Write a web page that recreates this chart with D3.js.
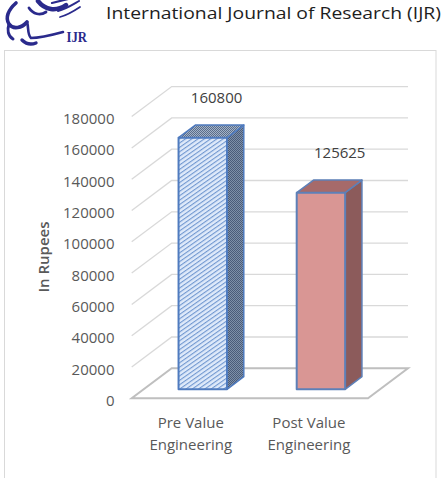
<!DOCTYPE html>
<html><head><meta charset="utf-8">
<script src="https://cdn.jsdelivr.net/npm/d3@7"></script>
<style>html,body{margin:0;padding:0;background:#fff;}svg{display:block;}</style>
</head><body>
<script>
const categories = [["Pre Value","Engineering"],["Post Value","Engineering"]];
const values = [160800, 125625];
const valueLabels = ["160800","125625"];
const ticks = [0,20000,40000,60000,80000,100000,120000,140000,160000,180000];

const W=444,H=478;
const svg=d3.select("body").append("svg").attr("width",W).attr("height",H);
const defs=svg.append("defs");

// patterns
const p1=defs.append("pattern").attr("id","hatch").attr("patternUnits","userSpaceOnUse")
  .attr("width",4).attr("height",3.6).attr("patternTransform","rotate(-35)");
p1.append("rect").attr("width",4).attr("height",3.6).attr("fill","#dfeafa");
p1.append("rect").attr("y",0).attr("width",4).attr("height",1.1).attr("fill","#7097d0");
function dots(id,bg,fg){
  const p=defs.append("pattern").attr("id",id).attr("patternUnits","userSpaceOnUse").attr("width",2).attr("height",2);
  p.append("rect").attr("width",2).attr("height",2).attr("fill",bg);
  p.append("rect").attr("width",1).attr("height",1).attr("fill",fg);
  p.append("rect").attr("x",1).attr("y",1).attr("width",1).attr("height",1).attr("fill",fg);
}
dots("dotTop","#a3b3c8","#5a6d8a");
dots("dotSide","#7e90a8","#4a5c7a");

// header logo (stylised)
const logo=svg.append("g").attr("fill","none").attr("stroke","#2a2a8c").attr("stroke-linecap","round");
logo.append("path").attr("d","M16,3 C8,10 5,18 9,24 C13,30 22,28 27,22").attr("stroke-width",3.6);
logo.append("path").attr("d","M9,24 C7,30 8,36 13,39").attr("stroke-width",3);
logo.append("path").attr("d","M27,22 C29,28 27,34 31,38 C41,38 52,35 63,32").attr("stroke-width",2.6);
logo.append("path").attr("d","M22,40 C26,44 31,45 36,43").attr("stroke-width",3.4);
logo.append("path").attr("d","M38,1 C45,10 56,12 66,5").attr("stroke-width",4.5);
logo.append("path").attr("d","M52,3 C60,1 68,-1 76,-3").attr("stroke-width",2.2);
logo.append("path").attr("d","M58,11 C66,9 72,5 79,1").attr("stroke-width",2);
logo.append("path").attr("d","M60,17 C68,15 74,11 80,7").attr("stroke-width",1.8);
logo.append("path").attr("d","M29,8 C33,14 40,16 46,12").attr("stroke-width",2.8);
svg.append("text").attr("x",66.5).attr("y",41.5).attr("font-family","Liberation Serif").attr("font-weight","bold")
  .attr("font-size",15).attr("fill","#2a2a8c").attr("textLength",20.5).attr("lengthAdjust","spacingAndGlyphs").text("IJR");
svg.append("text").attr("x",106).attr("y",18.5).attr("font-family","Open Sans").attr("font-size",17)
  .attr("fill","#1e1e1e").attr("textLength",335).attr("lengthAdjust","spacingAndGlyphs").text("International Journal of Research (IJR)");

// chart frame
svg.append("rect").attr("x",4.5).attr("y",50.5).attr("width",431.5).attr("height",440).attr("fill","#fff").attr("stroke","#d9d9d9").attr("stroke-width",1);

// 3D geometry
const x0=131.7, x1=368, yBase=398.3, DX=40, DY=30;
const x=d3.scaleBand().domain(d3.range(values.length)).range([x0,x1]).padding(0);
const y=d3.scaleLinear().domain([0,180000]).range([0,281.7]);
const P=(bx,v,d)=>[bx+DX*d, yBase-DY*d-y(v)];
const gridColor="#d9d9d9";

const grid=svg.append("g");
ticks.forEach(t=>{
  const a=P(x0,t,0), b=P(x0,t,1), c=P(x1,t,1);
  if(t>0){
    grid.append("path").attr("d",`M${a}L${b}L${c}`).attr("fill","none").attr("stroke",gridColor).attr("stroke-width",1.3);
  }
});
{
  const a=P(x0,0,0),b=P(x1,0,0),c=P(x1,0,1),d=P(x0,0,1);
  grid.append("path").attr("d",`M${a}L${b}L${c}L${d}Z`).attr("fill","#fff").attr("stroke","#bfbfbf").attr("stroke-width",2);
}

// tick labels
svg.append("g").selectAll("text").data(ticks).join("text")
  .attr("x",114.5).attr("y",t=>P(x0,t,0)[1]+1.5).attr("text-anchor","end").attr("dominant-baseline","central")
  .attr("font-family","Open Sans").attr("font-size",15).attr("fill","#595959").text(t=>t);

// axis title
svg.append("text").attr("transform","translate(43,257) rotate(-90)").attr("text-anchor","middle").attr("dominant-baseline","central")
  .attr("font-family","Open Sans").attr("font-weight",600).attr("font-size",15).attr("fill","#595959").text("In Rupees");

// bars
const dF=0.3, dB=0.72, frac=0.41;
const styles=[
  {front:"url(#hatch)",top:"url(#dotTop)",side:"url(#dotSide)",stroke:"#4f7bbf"},
  {front:"#d99694",top:"#a66a6a",side:"#8c5b5b",stroke:"#5d80b8"}
];
const labelDx=[-3,2];
const bars=svg.append("g");
values.forEach((v,i)=>{
  const bw=x.bandwidth()*frac;
  const l=x(i)+x.bandwidth()/2-bw/2, r=l+bw;
  const s=styles[i];
  const fbl=P(l,0,dF), fbr=P(r,0,dF), ftl=P(l,v,dF), ftr=P(r,v,dF);
  const bbr=P(r,0,dB), btl=P(l,v,dB), btr=P(r,v,dB);
  bars.append("path").attr("d",`M${fbr}L${bbr}L${btr}L${ftr}Z`).attr("fill",s.side).attr("stroke",s.stroke).attr("stroke-width",1.5).attr("stroke-linejoin","round");
  bars.append("path").attr("d",`M${ftl}L${ftr}L${btr}L${btl}Z`).attr("fill",s.top).attr("stroke",s.stroke).attr("stroke-width",1.5).attr("stroke-linejoin","round");
  bars.append("path").attr("d",`M${fbl}L${fbr}L${ftr}L${ftl}Z`).attr("fill",s.front).attr("stroke",s.stroke).attr("stroke-width",2).attr("stroke-linejoin","round");
  const lp=P(x(i)+x.bandwidth()/2,v,dB);
  svg.append("text").attr("x",lp[0]+labelDx[i]).attr("y",lp[1]-28).attr("text-anchor","middle").attr("dominant-baseline","central")
    .attr("font-family","Open Sans").attr("font-size",15).attr("fill","#404040").text(valueLabels[i]);
});

// category labels
categories.forEach((lines,i)=>{
  const cx=x(i)+x.bandwidth()/2;
  lines.forEach((ln,j)=>{
    svg.append("text").attr("x",cx).attr("y",421.5+j*22.5).attr("text-anchor","middle").attr("dominant-baseline","central")
      .attr("font-family","Open Sans").attr("font-size",15).attr("fill","#595959").text(ln);
  });
});
</script>
</body></html>
